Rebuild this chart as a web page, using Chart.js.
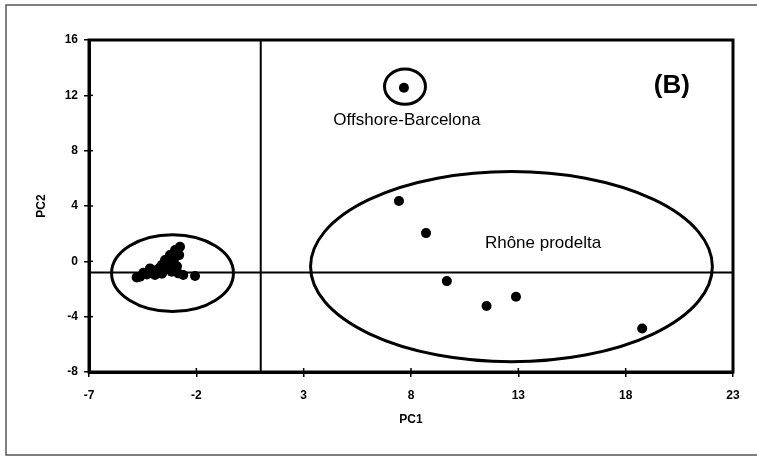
<!DOCTYPE html>
<html>
<head>
<meta charset="utf-8">
<script src="https://cdn.jsdelivr.net/npm/chart.js@4.4.1/dist/chart.umd.min.js"></script>
<style>
  html, body { margin: 0; padding: 0; background: #fff; }
  #wrap { width: 757px; height: 457px; position: relative; }
</style>
</head>
<body>
<div id="wrap"><canvas id="c" width="757" height="457"></canvas></div>
<script>
// ---- Data ----
const xTicks = [-7, -2, 3, 8, 13, 18, 23];
const yTicks = [-8, -4, 0, 4, 8, 12, 16];

const clusterX = [-4.78, -4.62, -4.47, -4.30, -4.16, -4.00, -3.93, -3.85, -3.70, -3.61, -3.60, -3.46, -3.46, -3.35, -3.23, -3.20, -3.15, -3.05, -2.99, -2.90, -2.84, -2.80, -2.76, -2.61, -2.06];
const clusterY = [-1.16, -1.11, -0.83, -0.95, -0.51, -0.85, -0.99, -0.63, -0.45, -0.27, -0.90, 0.09, -0.63, -0.20, 0.45, -0.45, -0.75, 0.10, 0.82, -0.35, -0.87, 0.45, 1.05, -0.99, -1.06];

const rhoneX = [7.44, 8.70, 9.67, 11.52, 12.89, 18.77];
const rhoneY = [4.36, 2.04, -1.43, -3.23, -2.56, -4.85];

const offshoreX = [7.67];
const offshoreY = [12.55];

// group ellipses (data units): left cluster, Rhône, Offshore
const ellipseCX = [-3.11, 12.68, 7.72];
const ellipseCY = [-0.85, -0.38, 12.63];
const ellipseRX = [2.84, 9.36, 0.955];
const ellipseRY = [2.78, 6.87, 1.27];

// reference lines
const refLineX = [1];
const refLineY = [-0.8];

const groupLabels = ['Offshore-Barcelona', 'Rhône prodelta'];
const panelLabel = '(B)';

const toPts = (xs, ys) => xs.map((x, i) => ({ x: x, y: ys[i] }));

Chart.defaults.font.family = "'Liberation Sans', Arial, sans-serif";
Chart.defaults.color = '#000';

const decorPlugin = {
  id: 'decor',
  beforeDraw(chart) {
    const ctx = chart.ctx;
    ctx.save();
    ctx.fillStyle = '#fff';
    ctx.fillRect(0, 0, chart.width, chart.height);
    ctx.strokeStyle = '#555';
    ctx.lineWidth = 1.5;
    ctx.strokeRect(6, 5, 800, 450);
    ctx.restore();
  },
  beforeDatasetsDraw(chart) {
    const ctx = chart.ctx;
    const xs = chart.scales.x, ys = chart.scales.y;
    const a = chart.chartArea;
    ctx.save();
    ctx.strokeStyle = '#000';
    ctx.lineWidth = 2;
    refLineX.forEach(v => {
      const px = xs.getPixelForValue(v);
      ctx.beginPath(); ctx.moveTo(px, a.top); ctx.lineTo(px, a.bottom); ctx.stroke();
    });
    refLineY.forEach(v => {
      const py = ys.getPixelForValue(v);
      ctx.beginPath(); ctx.moveTo(a.left, py); ctx.lineTo(a.right, py); ctx.stroke();
    });
    ctx.lineWidth = 3;
    ellipseCX.forEach((cx, i) => {
      const px = xs.getPixelForValue(cx), py = ys.getPixelForValue(ellipseCY[i]);
      const rx = Math.abs(xs.getPixelForValue(cx + ellipseRX[i]) - px);
      const ry = Math.abs(ys.getPixelForValue(ellipseCY[i] + ellipseRY[i]) - py);
      ctx.beginPath(); ctx.ellipse(px, py, rx, ry, 0, 0, Math.PI * 2); ctx.stroke();
    });
    const o = chart.options.plugins.decor;
    ctx.fillStyle = '#000';
    ctx.textAlign = 'center';
    ctx.textBaseline = 'middle';
    ctx.font = "17px 'Liberation Sans', Arial, sans-serif";
    o.labelAnchors.forEach((p, i) => {
      ctx.fillText(groupLabels[i], xs.getPixelForValue(p[0]), ys.getPixelForValue(p[1]));
    });
    ctx.font = "bold 26px 'Liberation Sans', Arial, sans-serif";
    ctx.fillText(panelLabel, xs.getPixelForValue(o.panelAnchor[0]), ys.getPixelForValue(o.panelAnchor[1]));
    ctx.restore();
  },
  afterDraw(chart) {
    const ctx = chart.ctx;
    const xs = chart.scales.x, ys = chart.scales.y;
    const a = chart.chartArea;
    ctx.save();
    ctx.strokeStyle = '#000';
    ctx.lineWidth = 3;
    ctx.strokeRect(a.left, a.top, a.right - a.left, a.bottom - a.top);
    ctx.lineWidth = 1.5;
    xs.ticks.forEach(t => {
      const px = xs.getPixelForValue(t.value);
      ctx.beginPath(); ctx.moveTo(px, a.bottom); ctx.lineTo(px, a.bottom - 4); ctx.stroke();
    });
    ys.ticks.forEach(t => {
      const py = ys.getPixelForValue(t.value);
      ctx.beginPath(); ctx.moveTo(a.left, py); ctx.lineTo(a.left + 4, py); ctx.stroke();
    });
    ctx.restore();
  }
};

new Chart(document.getElementById('c'), {
  type: 'scatter',
  data: {
    datasets: [
      { label: 'Cluster', data: toPts(clusterX, clusterY) },
      { label: 'Rhône prodelta', data: toPts(rhoneX, rhoneY) },
      { label: 'Offshore-Barcelona', data: toPts(offshoreX, offshoreY) }
    ].map(d => Object.assign(d, {
      backgroundColor: '#000', borderColor: '#000', borderWidth: 0,
      pointRadius: 5, pointHoverRadius: 5
    }))
  },
  options: {
    responsive: false,
    animation: false,
    events: [],
    layout: { padding: { left: 0, top: 40, right: 24, bottom: 0 } },
    plugins: {
      legend: { display: false },
      tooltip: { enabled: false },
      decor: {
        labelAnchors: [[7.81, 10.22], [14.15, 1.32]],
        panelAnchor: [20.15, 12.67]
      }
    },
    scales: {
      x: {
        type: 'linear', min: -7, max: 23,
        afterBuildTicks: s => { s.ticks = xTicks.map(v => ({ value: v })); },
        afterFit: s => { s.height = 85; },
        grid: { drawOnChartArea: false, drawTicks: true, tickLength: 5, color: '#000', lineWidth: 1.5 },
        border: { display: true, color: '#000', width: 3 },
        ticks: { font: { size: 12, weight: 'bold' }, padding: 11, maxRotation: 0, color: '#000' },
        title: { display: true, text: 'PC1', font: { size: 12, weight: 'bold' }, padding: { top: 0, bottom: 30 }, color: '#000' }
      },
      y: {
        type: 'linear', min: -8, max: 16,
        afterBuildTicks: s => { s.ticks = yTicks.map(v => ({ value: v })); },
        afterFit: s => { s.width = 89; },
        grid: { drawOnChartArea: false, drawTicks: true, tickLength: 5, color: '#000', lineWidth: 1.5 },
        border: { display: true, color: '#000', width: 3 },
        ticks: { font: { size: 12, weight: 'bold' }, padding: 6, color: '#000' },
        title: { display: true, text: 'PC2', font: { size: 12, weight: 'bold' }, padding: { top: 34, bottom: 0 }, color: '#000' }
      }
    }
  },
  plugins: [decorPlugin]
});
</script>
</body>
</html>
